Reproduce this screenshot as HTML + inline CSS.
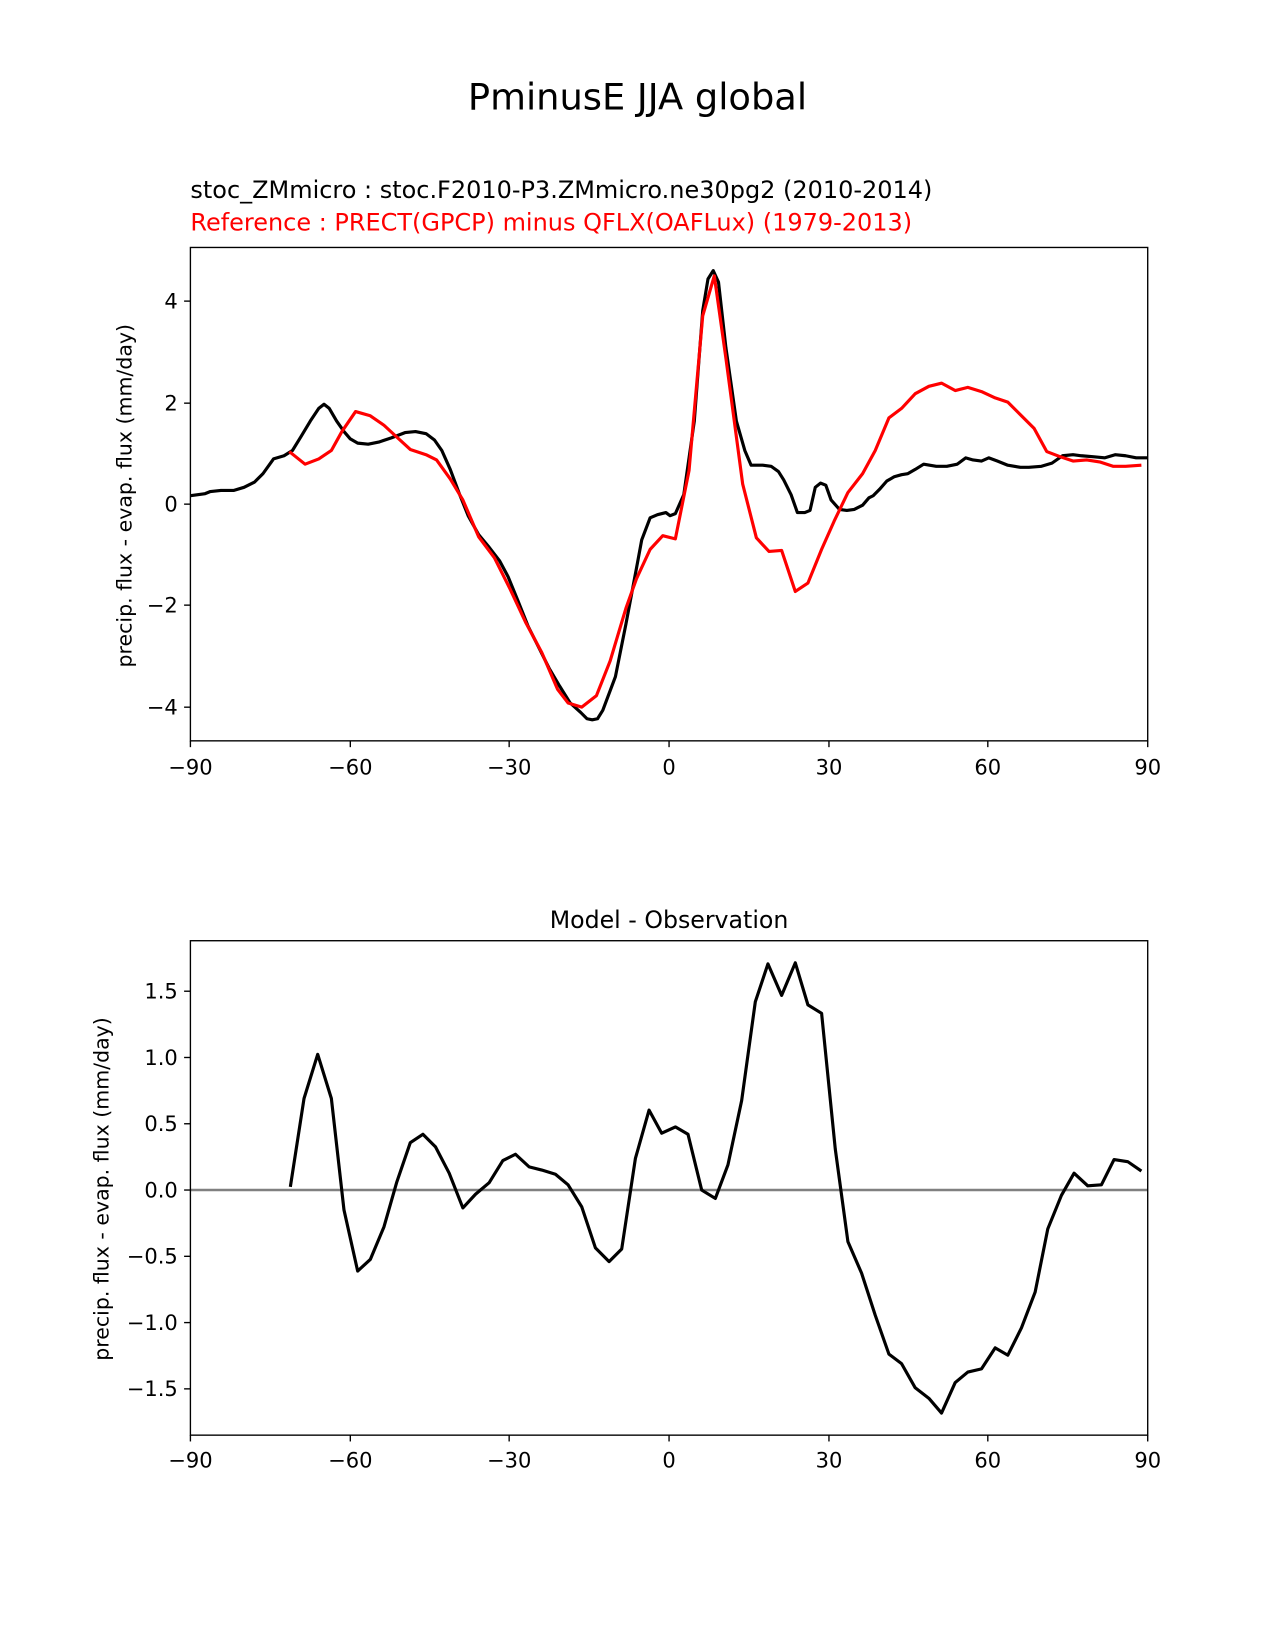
<!DOCTYPE html>
<html><head><meta charset="utf-8"><style>html,body{margin:0;padding:0;background:#fff}svg{display:block}text{font-family:"DejaVu Sans","Liberation Sans",sans-serif}</style></head><body>
<svg width="1275" height="1650" viewBox="0 0 1212 1568" xmlns="http://www.w3.org/2000/svg">
<rect width="1212" height="1568" fill="#fff"/>
<text x="606" y="104" font-size="35" text-anchor="middle">PminusE JJA global</text>
<text x="181" y="188" font-size="22.8">stoc_ZMmicro : stoc.F2010-P3.ZMmicro.ne30pg2 (2010-2014)</text>
<text x="181" y="219" font-size="22.8" fill="red">Reference : PRECT(GPCP) minus QFLX(OAFLux) (1979-2013)</text>
<g font-size="20" text-anchor="middle">
<text x="181" y="736">−90</text><text x="333" y="736">−60</text><text x="484" y="736">−30</text><text x="636" y="736">0</text><text x="788" y="736">30</text><text x="939" y="736">60</text><text x="1091" y="736">90</text>
<text x="181" y="1395">−90</text><text x="333" y="1395">−60</text><text x="484" y="1395">−30</text><text x="636" y="1395">0</text><text x="788" y="1395">30</text><text x="939" y="1395">60</text><text x="1091" y="1395">90</text>
</g>
<g stroke="#000" stroke-width="1.3">
<line x1="181" y1="704" x2="181" y2="710"/><line x1="333" y1="704" x2="333" y2="710"/><line x1="484" y1="704" x2="484" y2="710"/><line x1="636" y1="704" x2="636" y2="710"/><line x1="788" y1="704" x2="788" y2="710"/><line x1="939" y1="704" x2="939" y2="710"/><line x1="1091" y1="704" x2="1091" y2="710"/>
<line x1="181" y1="1364" x2="181" y2="1370"/><line x1="333" y1="1364" x2="333" y2="1370"/><line x1="484" y1="1364" x2="484" y2="1370"/><line x1="636" y1="1364" x2="636" y2="1370"/><line x1="788" y1="1364" x2="788" y2="1370"/><line x1="939" y1="1364" x2="939" y2="1370"/><line x1="1091" y1="1364" x2="1091" y2="1370"/>
<line x1="175" y1="286" x2="181" y2="286"/><line x1="175" y1="383" x2="181" y2="383"/><line x1="175" y1="479" x2="181" y2="479"/><line x1="175" y1="575" x2="181" y2="575"/><line x1="175" y1="672" x2="181" y2="672"/>
<line x1="175" y1="942" x2="181" y2="942"/><line x1="175" y1="1005" x2="181" y2="1005"/><line x1="175" y1="1068" x2="181" y2="1068"/><line x1="175" y1="1131" x2="181" y2="1131"/><line x1="175" y1="1194" x2="181" y2="1194"/><line x1="175" y1="1257" x2="181" y2="1257"/><line x1="175" y1="1320" x2="181" y2="1320"/>
</g>
<g font-size="20" text-anchor="end">
<text x="169" y="293">4</text><text x="169" y="390">2</text><text x="169" y="486">0</text><text x="169" y="582">−2</text><text x="169" y="679">−4</text>
<text x="169" y="949">1.5</text><text x="169" y="1012">1.0</text><text x="169" y="1075">0.5</text><text x="169" y="1138">0.0</text><text x="169" y="1201">−0.5</text><text x="169" y="1264">−1.0</text><text x="169" y="1327">−1.5</text>
</g>
<text transform="translate(125,471) rotate(-90)" font-size="19.5" text-anchor="middle">precip. flux - evap. flux (mm/day)</text>
<text transform="translate(103,1130) rotate(-90)" font-size="19.5" text-anchor="middle">precip. flux - evap. flux (mm/day)</text>
<text x="636" y="882" font-size="22.5" text-anchor="middle">Model - Observation</text>
<polyline fill="none" stroke="#000" stroke-width="3" stroke-linejoin="round" points="181,471 195,469 200,467 210,466 222,466 232,463 242,458 250,450 260,436 270,433 278,428 286,415 295,400 303,388 308,384 313,388 320,400 327,410 333,417 340,421 350,422 360,420 372,416 385,411 395,410 405,412 413,418 420,428 428,446 437,470 445,490 455,508 465,520 475,533 483,548 492,570 502,595 512,615 522,635 532,652 542,668 552,677 558,683 563,684 568,683 573,675 585,643 595,593 605,540 610,513 618,492 625,489 633,487 637,490 642,488 650,470 660,400 668,295 673,265 678,257 683,268 690,330 700,400 708,428 714,442 725,442 733,443 740,448 745,456 752,470 758,487 765,487 770,485 775,463 780,459 785,461 790,475 798,484 805,485 812,484 820,480 826,473 830,471 836,465 843,457 850,453 857,451 863,450 870,446 878,441 890,443 900,443 910,441 918,435 925,437 933,438 940,435 948,438 958,442 970,444 978,444 990,443 1000,440 1010,433 1020,432 1028,433 1040,434 1050,435 1060,432 1070,433 1080,435 1091,435"/>
<polyline fill="none" stroke="red" stroke-width="3" stroke-linejoin="round" points="275,429 290,441 303,436 315,428 325,410 338,391 352,395 365,404 378,416 390,427 405,432 415,437 428,455 440,475 455,510 470,530 485,560 500,592 515,620 530,655 540,668 553,672 567,661 580,628 595,578 605,550 618,522 630,509 642,512 655,447 668,300 679,262 690,340 706,460 719,511 731,524 743,523 756,562 768,554 781,522 793,495 806,468 820,450 832,428 845,397 857,388 870,374 883,367 895,364 908,371 920,368 933,372 946,378 958,382 970,394 983,407 995,429 1008,434 1020,438 1033,437 1046,439 1058,443 1070,443 1085,442"/>
<line x1="181" y1="1131" x2="1091" y2="1131" stroke="#808080" stroke-width="2.4"/>
<polyline fill="none" stroke="#000" stroke-width="3" stroke-linejoin="round" points="276,1128 289,1044 302,1002 315,1044 327,1150 340,1208 352,1197 365,1166 377,1124 390,1086 402,1078 414,1090 427,1115 440,1148 452,1135 465,1124 478,1103 490,1097 503,1109 515,1112 528,1116 540,1126 553,1147 566,1186 579,1199 591,1187 604,1101 617,1055 629,1077 642,1071 654,1078 667,1131 680,1139 692,1107 705,1046 718,952 730,916 743,946 756,915 768,955 781,963 794,1092 806,1180 819,1210 832,1250 845,1287 857,1296 870,1319 883,1329 895,1343 908,1314 920,1304 933,1301 946,1281 958,1288 971,1262 984,1228 996,1168 1009,1136 1021,1115 1034,1127 1047,1126 1059,1102 1072,1104 1085,1113"/>
<rect x="181" y="235" width="910" height="469" fill="none" stroke="#000" stroke-width="1.3"/>
<rect x="181" y="894" width="910" height="470" fill="none" stroke="#000" stroke-width="1.3"/>
</svg>
</body></html>
